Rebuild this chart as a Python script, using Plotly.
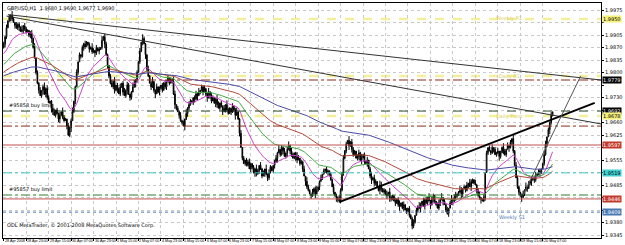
import plotly.graph_objects as go
import pandas as pd

# ---------------- data ----------------
# hourly closes in pips above 1.9000  (e.g. 964 -> 1.9964)
closes_pips = [
    880, 900, 925, 945, 955, 960,
    950, 940, 932, 925, 935, 928, 915, 920, 930, 922, 912, 918, 905, 910,
    895, 870, 840, 800, 770, 750, 735,
    750, 760, 740, 755, 730, 715, 720, 700,
    690, 680, 695, 685, 670, 680, 690, 675, 665, 670, 650, 625, 645, 665, 690,
    720, 760, 800, 830, 850, 845, 870, 880, 872, 885, 878,
    865, 870, 858, 862, 855, 868, 860, 866, 870,
    890, 900, 880,
    850, 820, 790, 770, 760, 775, 750, 765,
    755, 740, 760, 770, 745, 735, 750, 765, 740, 730, 745, 760, 770, 780, 800,
    830, 860, 885, 895, 880,
    850, 810, 790, 770, 760, 775, 750, 740, 760, 745,
    755, 765, 750, 770, 760, 775, 785, 770, 780, 775,
    740, 710, 700, 690, 680, 665, 660, 650, 670, 685,
    700, 710, 720, 715, 730, 725, 740, 735, 745,
    750, 760, 745, 755, 740, 730, 745, 735, 720, 730, 715, 725, 710, 700,
    715, 705, 690, 700, 710, 695, 685, 700, 690, 705, 695, 680, 690, 670,
    630, 590, 560, 545, 555, 540, 550, 530,
    545, 535, 520, 530, 515, 525, 540, 530, 510, 520, 530, 515, 505, 520,
    535, 525, 540, 550, 560,
    575, 585, 570, 590, 580, 565, 575, 585, 595, 580, 570, 560, 575, 565,
    555, 560, 545, 550,
    530, 510, 495, 480, 470, 460, 455, 465, 475, 460, 470, 480,
    495, 505, 515, 525, 530, 520, 525, 515, 500,
    480, 465, 455, 450, 445, 440,
    470, 520, 560, 580, 600, 610, 595, 605,
    585, 570, 580, 560, 565, 575, 555, 560, 570, 550, 545, 555,
    530, 510, 500, 505, 490, 495, 480, 470, 485, 475, 465, 470,
    460, 455, 465, 450, 445, 455, 440, 435, 445, 430, 425, 435, 420, 430,
    415, 410, 420, 400, 390,
    370, 380, 400, 415, 425, 420,
    430, 440, 425, 445, 435, 450, 440, 430, 445, 455, 440, 430, 420, 435,
    445, 450, 440, 430, 415, 405, 420, 435, 445, 440, 450, 460,
    455, 465, 470, 460, 475, 480, 470, 485, 490, 480, 495, 500, 490, 485,
    470, 455, 450, 445, 440, 450,
    520, 575, 590,
    580, 575, 590, 585, 570, 575, 580, 565, 575, 590, 580, 570, 585, 595,
    590, 605, 615,
    580, 540, 505, 480, 465, 455, 450,
    460, 470, 480, 475, 490, 495, 500, 505, 500, 510, 515, 520, 525, 530,
    545, 570, 600, 620, 640, 660, 680, 690,
]
first_open_pips = 870
# wick sizes per bar (units of 3 pips), upper and lower
wick_up = (
    "2130214203120413210231402130241320143021304210312401302021"
    "3102142031204132102314021302413201430213042103124013020213"
    "1202143021312041321023140213024132014302130421031240130202"
    "2310214203120413210231402130241320143021304210312401302021"
    "0213021420312041321023140213024132014302130421031240130202"
    "1230214203120413210231402130241320143021304210312401302021"
    "3021302142031204132102314021302413201430213042103124013020"
)
wick_dn = (
    "1320142031240132102341021302413201430213402103124013020213"
    "2013021420312041321023140213024132014302130421031240130202"
    "3120214203120413210231402130241320143021304210312401302021"
    "1032142031204132102314021302413201430213042103124013020213"
    "2102143021312041321023140213024132014302130421031240130202"
    "0321021420312041321023140213024132014302130421031240130202"
    "1302142031204132102314021302413201430213042103124013020213"
)

x_labels = ["28 Apr 2008", "28 Apr 23:00", "29 Apr 15:00", "30 Apr 07:00",
            "30 Apr 23:00", "1 May 15:00", "2 May 07:00", "4 May 23:00",
            "5 May 15:00", "6 May 07:00", "6 May 23:00", "7 May 15:00",
            "8 May 07:00", "8 May 23:00", "9 May 15:00", "12 May 07:00",
            "12 May 23:00", "13 May 15:00", "14 May 07:00", "14 May 23:00",
            "15 May 15:00", "16 May 07:00", "18 May 23:00", "19 May 15:00",
            "20 May 07:00"]
bars_per_label = 16

y_ticks = [1.9975, 1.9940, 1.9905, 1.9870, 1.9835, 1.9800, 1.9765, 1.9730,
           1.9695, 1.9660, 1.9625, 1.9590, 1.9555, 1.9520, 1.9485, 1.9450,
           1.9415, 1.9380, 1.9345]
y_min, y_max = 1.93366, 1.99946
x_max_bar = 425.5

# horizontal levels (price)
levels = [1.9950, 1.9790, 1.9779, 1.9692, 1.9678, 1.9650, 1.9597, 1.9519,
          1.9457, 1.9446, 1.9409]
level_style = [("#f4ef9a", 2.5, "dash"), ("#f4ef9a", 2.5, "dash"),
               ("#8b2a1a", 1, "dashdot"), ("#2f4f2f", 1, "dash"),
               ("#f4ef9a", 2.5, "dash"), ("#8b2a1a", 1, "dashdot"),
               ("#c0504d", 1, "solid"), ("#40c8c8", 1, "dashdot"),
               ("#2e7d32", 1, "dashdot"), ("#c0504d", 1, "solid"),
               ("#4a78b0", 1, "dot")]
# coloured price tags on the right axis
tag_prices = [1.9950, 1.9779, 1.9692, 1.9678, 1.9597, 1.9519, 1.9446, 1.9409]
tag_style = [("#f5f07a", "#000000"), ("#000000", "#ffffff"),
             ("#000000", "#ffffff"), ("#f5f07a", "#000000"),
             ("#c0392b", "#ffffff"), ("#40d0d0", "#000000"),
             ("#c0392b", "#ffffff"), ("#4a78b0", "#ffffff")]

# trend lines: (bar0, price0, bar1, price1)
trendlines = [(3, 1.9962, 425.5, 1.9779),
              (2, 1.9958, 425.5, 1.9656),
              (239, 1.9437, 421, 1.9715),
              (370, 1.9457, 411, 1.9790)]
trend_style = [("#333333", 1), ("#333333", 1), ("#000000", 2), ("#555555", 1)]

ma_periods = [21, 50, 100, 200]
ma_seed_pips = [850, 820, 800, 790]
ma_colors = ["#cc44cc", "#44aa44", "#b24a3a", "#4a4aa8"]

# ---------------- build ----------------
N = len(closes_pips)
closes = [1.9 + p / 10000 for p in closes_pips]
opens = [1.9 + first_open_pips / 10000] + closes[:-1]
highs, lows = [], []
for i in range(N):
    hu = int(wick_up[i]) * 3 / 10000
    ld = int(wick_dn[i]) * 3 / 10000
    highs.append(max(opens[i], closes[i]) + hu)
    lows.append(min(opens[i], closes[i]) - ld)
idx = list(range(N))

fig = go.Figure()
for per, seed, col in zip(ma_periods, ma_seed_pips, ma_colors):
    s = pd.Series([1.9 + seed / 10000] + closes)
    ema = s.ewm(span=per, adjust=False).mean().iloc[1:].tolist()
    fig.add_trace(go.Scatter(x=idx, y=ema, mode="lines",
                             line=dict(color=col, width=1),
                             showlegend=False, hoverinfo="skip"))
fig.add_trace(go.Candlestick(
    x=idx, open=opens, high=highs, low=lows, close=closes,
    increasing=dict(line=dict(color="#000000", width=1), fillcolor="#ffffff"),
    decreasing=dict(line=dict(color="#000000", width=1), fillcolor="#000000"),
    whiskerwidth=0, showlegend=False, hoverinfo="skip"))

shapes = []
for lv, (c, w, d) in zip(levels, level_style):
    shapes.append(dict(type="line", xref="paper", x0=0, x1=1, yref="y",
                       y0=lv, y1=lv, line=dict(color=c, width=w, dash=d),
                       layer="below" if w >= 2 else "above"))
for (b0, p0, b1, p1), (c, w) in zip(trendlines, trend_style):
    shapes.append(dict(type="line", xref="x", yref="y", x0=b0, y0=p0,
                       x1=b1, y1=p1, line=dict(color=c, width=w)))

F = "DejaVu Sans"
FN = "Liberation Sans Narrow, Liberation Sans, Arial Narrow, sans-serif"
ann = []
for k, lab in enumerate(x_labels):
    ann.append(dict(x=k * bars_per_label, y=0, xref="x", yref="paper",
                    text=lab, showarrow=False, xanchor="left", yanchor="top",
                    xshift=-1, yshift=1, font=dict(size=3.7, color="#000000", family=FN)))
for p, (bg, fc) in zip(tag_prices, tag_style):
    ann.append(dict(x=1, y=p, xref="paper", yref="y", text=f"{p:.4f}",
                    showarrow=False, xanchor="left", yanchor="middle",
                    xshift=1, bgcolor=bg, borderpad=0,
                    font=dict(size=5, color=fc, family=F)))
title_txt = "GBPUSD,H1  %.4f %.4f %.4f %.4f" % (opens[-1], highs[-1], lows[-1], closes[-1])
ann.append(dict(x=0, y=1, xref="paper", yref="paper", text=title_txt,
                showarrow=False, xanchor="left", yanchor="top", xshift=2,
                font=dict(size=5, color="#000000", family=F)))
ann.append(dict(x=0, y=0, xref="paper", yref="paper",
                text="ODL MetaTrader, © 2001-2008 MetaQuotes Software Corp.",
                showarrow=False, xanchor="left", yanchor="bottom", xshift=2,
                yshift=7, font=dict(size=5, color="#000000", family=F)))
ann.append(dict(x=2, y=1.9692, xref="x", yref="y", text="#95858 buy limit",
                showarrow=False, xanchor="left", yanchor="bottom",
                font=dict(size=5, color="#000000", family=F)))
ann.append(dict(x=2, y=1.9457, xref="x", yref="y", text="#95857 buy limit",
                showarrow=False, xanchor="left", yanchor="bottom",
                font=dict(size=5, color="#000000", family=F)))
ann.append(dict(x=362, y=1.9409, xref="x", yref="y", text="Weekly S1",
                showarrow=False, xanchor="center", yanchor="top",
                font=dict(size=5, color="#4a78b0", family=F)))
for p, t in zip([1.9950, 1.9790, 1.9678], ["Weekly R1", "Daily R1", "Daily Pivot"]):
    ann.append(dict(x=360, y=p, xref="x", yref="y", text=t,
                    showarrow=False, xanchor="center", yanchor="middle",
                    font=dict(size=5, color="#d8d060", family=F)))

# tick labels hidden where a price tag sits on top of them
px_per_price = 235 / (y_max - y_min)
tick_text = []
for v in y_ticks:
    covered = any(abs(v - p) * px_per_price < 6 for p in tag_prices)
    tick_text.append("" if covered else f"{v:.4f}")

fig.update_layout(
    width=625, height=245, margin=dict(l=2, r=18, t=3, b=7),
    paper_bgcolor="#ffffff", plot_bgcolor="#ffffff",
    shapes=shapes, annotations=ann,
    xaxis=dict(range=[-0.5, x_max_bar], rangeslider=dict(visible=False),
               tickvals=[k * bars_per_label for k in range(len(x_labels))],
               showticklabels=False, ticks="outside", ticklen=2,
               tickcolor="#000000", showgrid=True, gridcolor="#c8c8c8",
               griddash="dot", gridwidth=1, zeroline=False,
               showline=True, linecolor="#000000", linewidth=1, mirror=True),
    yaxis=dict(range=[y_min, y_max], side="right", tickvals=y_ticks,
               ticktext=tick_text,
               tickfont=dict(size=5, color="#000000", family=F),
               ticks="outside", ticklen=2, tickcolor="#000000",
               showgrid=True, gridcolor="#c8c8c8", griddash="dot",
               zeroline=False, showline=True, linecolor="#000000",
               linewidth=1, mirror=True),
)
fig.write_html("out.html")
